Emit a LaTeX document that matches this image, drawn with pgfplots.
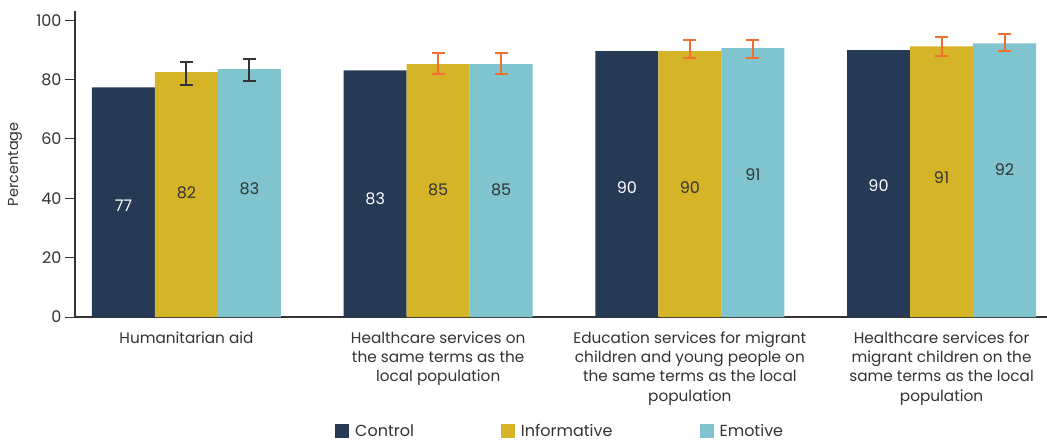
\documentclass[border=0pt]{standalone}
\usepackage{fontspec}
\setmainfont{Poppins}
\usepackage{pgfplots}
\pgfplotsset{compat=1.18}
\definecolor{ctrl}{HTML}{263A56}
\definecolor{info}{HTML}{D6B427}
\definecolor{emo}{HTML}{7FC4CE}
\definecolor{err}{HTML}{F07033}
\definecolor{txt}{HTML}{333333}
\begin{document}
\begin{tikzpicture}
\begin{axis}[
  scale only axis, width=972bp, height=305.7bp,
  xmin=-0.443, xmax=3.419, ymin=0, ymax=103,
  ybar=0pt, bar width=63bp,
  axis x line=bottom, axis y line=left,
  axis line style={-, txt, line width=1.2bp},
  xtick={0,1,2,3},
  xticklabels={{Humanitarian aid},{Healthcare services on\\the same terms as the\\local population},{Education services for migrant\\children and young people on\\the same terms as the local\\population},{Healthcare services for\\migrant children on the\\same terms as the local\\population}},
  x tick style={draw=none},
  xticklabel style={align=center, text=txt, font=\fontsize{15.3bp}{19.3bp}\selectfont, yshift=-1bp},
  ytick={0,20,40,60,80,100},
  y tick style={txt, line width=1bp},
  tick align=outside, major tick length=10bp,
  /pgf/number format/assume math mode=true,
  yticklabel style={text=txt, font=\fontsize{16bp}{18bp}\selectfont},
  ylabel={Percentage},
  every axis y label/.style={at={(axis description cs:-0.0617,0.5)}, rotate=90, anchor=center, text=txt, font=\fontsize{14.5bp}{17bp}\selectfont},
  legend columns=3,
  legend image code/.code={\fill[#1] (0bp,-7bp) rectangle (14bp,7bp);},
  legend style={draw=none, fill=none, inner sep=0pt, at={(axis description cs:0,0)}, anchor=west, xshift=260bp, yshift=-114bp,
    font=\fontsize{16bp}{18bp}\selectfont, text=txt,
    /tikz/every odd column/.append style={column sep=4bp},
    /tikz/every even column/.append style={column sep=85bp}},
]
\addplot[fill=ctrl, draw=none, bar shift=-63bp] coordinates {(0,77.4) (1,83.1) (2,89.6) (3,89.9)};
\addplot[fill=info, draw=none, bar shift=0bp] coordinates {(0,82.5) (1,85.2) (2,89.6) (3,91.2)};
\addplot[fill=emo, draw=none, bar shift=63bp] coordinates {(0,83.5) (1,85.2) (2,90.6) (3,92.2)};
\legend{Control,Informative,Emotive}
% error bars, first group (dark)
\addplot[forget plot, draw=none, fill=none, bar shift=0bp, error bars/.cd, y dir=both, y explicit,
  error bar style={draw=txt, line width=2bp},
  error mark options={rotate=90, mark size=6.5bp, line width=2bp, draw=txt}]
  coordinates {(0,82.1) +- (0,3.8) (0.2503,83.2) +- (0,3.75)};
% error bars, other groups (orange)
\addplot[forget plot, draw=none, fill=none, bar shift=0bp, error bars/.cd, y dir=both, y explicit,
  error bar style={draw=err, line width=2bp},
  error mark options={rotate=90, mark size=6.5bp, line width=2bp, draw=err}]
  coordinates {(1,85.4) +- (0,3.6) (1.2503,85.4) +- (0,3.6)
               (2,90.3) +- (0,3.0) (2.2503,90.3) +- (0,3.0)
               (3,91.3) +- (0,3.2) (3.2503,92.5) +- (0,3.0)};
% value labels
\addplot[forget plot, draw=none, fill=none, bar shift=0bp, nodes near coords, point meta=explicit symbolic,
  every node near coord/.append style={anchor=center, text=white, font=\fontsize{16bp}{18bp}\selectfont}]
  coordinates {(-0.2503,37.6) [77] (0.7497,39.8) [83] (1.7497,43.5) [90] (2.7497,44.1) [90]};
\addplot[forget plot, draw=none, fill=none, bar shift=0bp, nodes near coords, point meta=explicit symbolic,
  every node near coord/.append style={anchor=center, text=txt, font=\fontsize{16bp}{18bp}\selectfont}]
  coordinates {(0,41.7) [82] (1,43.0) [85] (2,43.5) [90] (3,47.0) [91]
               (0.2503,43.3) [83] (1.2503,43.0) [85] (2.2503,48.0) [91] (3.2503,49.5) [92]};
\end{axis}
\pgfresetboundingbox
\path (-75bp,-125bp) rectangle (972bp,317bp);
\end{tikzpicture}
\end{document}
